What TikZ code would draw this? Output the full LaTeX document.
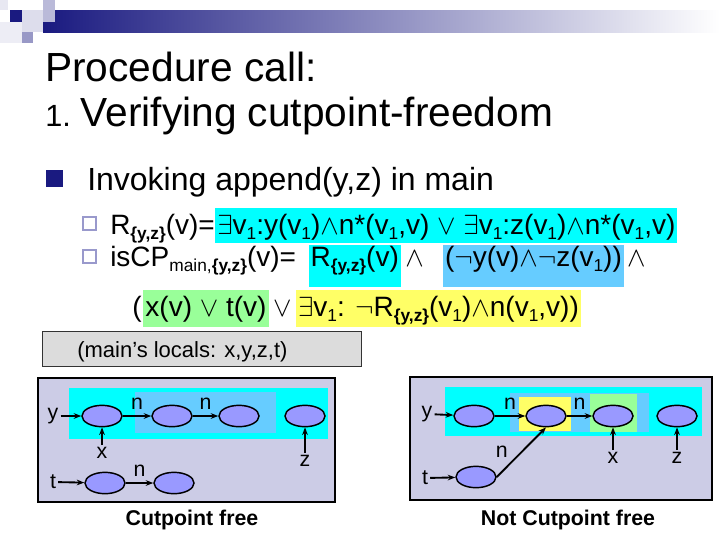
\documentclass[tikz,border=0pt]{standalone}
\usepackage{fontspec}
\setmainfont{Liberation Sans}
\usepackage{xcolor}
\definecolor{cNavy}{HTML}{1A1A80}
\definecolor{cBull}{HTML}{9999CC}
\definecolor{cCyan}{HTML}{00FFFF}
\definecolor{cSky}{HTML}{66CCFF}
\definecolor{cGreen}{HTML}{99FF99}
\definecolor{cYellow}{HTML}{FFFF66}
\definecolor{cPanel}{HTML}{CCCCE6}
\definecolor{cCell}{HTML}{9999FF}
\definecolor{cGrayBox}{HTML}{DCDCDC}
\usetikzlibrary{positioning,arrows.meta,shapes.geometric}
% subscript as on the slide
\newcommand{\lo}[1]{\raisebox{-4pt}{\fontsize{13}{13}\selectfont #1}}
\newcommand{\yz}{\textbf{\{y,z\}}}
\tikzset{
  txt-title/.style={anchor=base west,inner sep=0pt,font=\fontsize{30.5}{36}\selectfont},
  txt-bullet/.style={anchor=base west,inner sep=0pt,font=\fontsize{24}{28}\selectfont},
  txt-formula/.style={anchor=base west,inner sep=0pt,font=\fontsize{21}{25}\selectfont},
  hl-one/.style={inner xsep=1.5pt,inner ysep=0pt,text height=19.5pt,text depth=6.5pt},
  hl-two/.style={inner xsep=1.5pt,inner ysep=0pt,text height=15.5pt,text depth=15.5pt},
  hl-three/.style={inner xsep=1.5pt,inner ysep=0pt,text height=19.5pt,text depth=8.25pt},
  node-cell/.style={draw=black,line width=1.1pt,ellipse,fill=cCell,
    minimum width=30pt,minimum height=16pt,inner sep=0pt},
  node-lbl/.style={font=\fontsize{16}{18}\selectfont,inner sep=1.5pt},
  node-caption/.style={font=\bfseries\fontsize{16}{18}\selectfont,inner sep=0pt},
  arrow/.style={-{Stealth[length=2mm]},line width=1.4pt},
  hollow/.style={draw=cBull,line width=1.4pt},
}

\begin{document}
\begin{tikzpicture}[x=0.75pt,y=-0.75pt]
  \useasboundingbox (0,0) rectangle (720,540);
  % header decoration
  \shade[left color=cNavy,right color=white] (43,10) rectangle (720,32);
  \fill[cNavy!10] (0,0) rectangle (8,10);
  \fill[cNavy!30] (43,0) rectangle (55,22);
  \fill[cNavy!15] (22,10) rectangle (43,32);
  \fill[cNavy!8] (0,22) rectangle (22,43);
  \fill[cNavy!45] (22,32) rectangle (33,43);
  \fill[cNavy] (10,10) rectangle (22,22);

  % title
  \node[txt-title] (t1) at (45,81) {Procedure call:};
  \node[txt-title,font=\fontsize{23}{28}\selectfont] (t2) at (45,126) {1.};
  \node[txt-title,base right=7pt of t2] (t3) {Verifying cutpoint-freedom};

  % bullets
  \fill[cNavy] (46,170) rectangle (63,187);
  \node[txt-bullet] (b1) at (87,190) {Invoking append(y,z) in main};
  \draw[hollow] (83,217) rectangle (96,230);
  \draw[hollow] (83,250) rectangle (96,263);

  % line 1
  \node[txt-formula] (f1a) at (110,234) {R\lo{\yz}(v)=};
  \node[txt-formula,hl-one,fill=cCyan,base right=0pt of f1a] (f1b)
    {$\exists$v\lo{1}:y(v\lo{1})$\wedge$n*(v\lo{1},v) $\vee$ $\exists$v\lo{1}:z(v\lo{1})$\wedge$n*(v\lo{1},v)};
  % line 2
  \node[txt-formula] (f2a) at (110,266) {isCP\lo{main,\yz}(v)=};
  \node[txt-formula,hl-two,fill=cCyan,base right=9pt of f2a] (f2b) {R\lo{\yz}(v)};
  \node[txt-formula,base right=3pt of f2b] (f2c) {$\wedge$};
  \node[txt-formula,hl-two,fill=cSky,base right=14pt of f2c] (f2d)
    {($\neg$y(v)$\wedge\neg$z(v\lo{1}))};
  \node[txt-formula,base right=2pt of f2d] (f2e) {$\wedge$};
  % line 3
  \node[txt-formula] (f3a) at (132,316) {(};
  \node[txt-formula,hl-three,fill=cGreen,base right=1pt of f3a] (f3b) {x(v) $\vee$ t(v)};
  \node[txt-formula,base right=3pt of f3b] (f3c) {$\vee$};
  \node[txt-formula,hl-three,fill=cYellow,base right=3pt of f3c] (f3d)
    {$\exists$v\lo{1}: $\neg$R\lo{\yz}(v\lo{1})$\wedge$n(v\lo{1},v))};

  % locals box
  \draw[fill=cGrayBox,draw=black!80] (42,331) rectangle (361,366);
  \node[anchor=base west,inner sep=0pt,font=\fontsize{16.5}{20}\selectfont] (loc)
    at (77,357) {(main’s locals: x,y,z,t)};

  % left heap
  \draw[line width=2.2pt,fill=cPanel] (38,378) rectangle (335,502);
  \fill[cCyan] (69,388) rectangle (328,439);
  \fill[cSky] (135,392) rectangle (276,433);
  \node[node-cell] (a1) at (102,416) {};
  \node[node-cell] (a2) at (172,416) {};
  \node[node-cell] (a3) at (239,416) {};
  \node[node-cell] (a4) at (305,416) {};
  \node[node-cell] (a5) at (105,483) {};
  \node[node-cell] (a6) at (174,483) {};
  \node[node-lbl] (ly) at (53,416) {y};
  \node[node-lbl] (lx) at (102,453) {x};
  \node[node-lbl] (lz) at (305,461) {z};
  \node[node-lbl] (lt) at (53,482) {t};
  \draw[arrow] (ly) -- (a1);
  \draw[arrow] (a1) -- node[node-lbl,above=3pt]{n} (a2);
  \draw[arrow] (a2) -- node[node-lbl,above=3pt]{n} (a3);
  \draw[arrow] (lx) -- (a1);
  \draw[arrow] (lz) -- (a4);
  \draw[arrow] (lt) -- (a5);
  \draw[arrow] (a5) -- node[node-lbl,above=3pt]{n} (a6);
  \node[node-caption] (capl) at (192,520) {Cutpoint free};

  % right heap
  \draw[line width=2.2pt,fill=cPanel] (410,377) rectangle (712,500);
  \fill[cCyan] (445,387) rectangle (702,436);
  \fill[cSky] (510,393) rectangle (649,432);
  \fill[cYellow] (519,397) rectangle (571,431);
  \fill[cGreen] (590,394) rectangle (637,432);
  \node[node-cell] (c1) at (474,416) {};
  \node[node-cell] (c2) at (546,416) {};
  \node[node-cell] (c3) at (613,416) {};
  \node[node-cell] (c4) at (677,416) {};
  \node[node-cell] (d1) at (476,477) {};
  \node[node-lbl] (ry) at (427,414) {y};
  \node[node-lbl] (rx) at (613,458) {x};
  \node[node-lbl] (rz) at (677,458) {z};
  \node[node-lbl] (rt) at (425,478) {t};
  \draw[arrow] (ry) -- (c1);
  \draw[arrow] (c1) -- node[node-lbl,above=3pt]{n} (c2);
  \draw[arrow] (c2) -- node[node-lbl,above=3pt]{n} (c3);
  \draw[arrow] (rx) -- (c3);
  \draw[arrow] (rz) -- (c4);
  \draw[arrow] (rt) -- (d1);
  \draw[arrow] (d1.east) -- node[node-lbl,left=8pt]{n} (c2.south);
  \node[node-caption] (capr) at (568,520) {Not Cutpoint free};
\end{tikzpicture}
\end{document}
